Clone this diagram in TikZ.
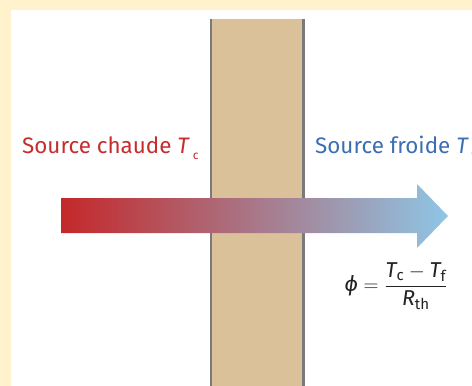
\documentclass[tikz,border=0pt]{standalone}
\usepackage{amsmath}
\usepackage{fontspec}
\setmainfont{Fira Sans}
\definecolor{cream}{HTML}{FFF2CC}
\definecolor{wallfill}{HTML}{DBC199}
\definecolor{wallline}{HTML}{7A7A7A}
\definecolor{hotred}{HTML}{C4282A}
\definecolor{coldblue}{HTML}{8EC6E6}
\definecolor{txtred}{HTML}{C62D2D}
\definecolor{txtblue}{HTML}{3B6EB2}
\definecolor{ink}{HTML}{222222}
\newcommand{\lblsub}[1]{\kern0.12em\raisebox{-0.3em}{\fontsize{12}{13}\selectfont #1}}
\tikzset{
  srclabel/.style={anchor=base west, inner sep=0pt, font=\fontsize{22.4}{25}\selectfont},
  wallborder/.style={draw=wallline, line width=2.6pt},
}
\begin{document}
\begin{tikzpicture}[x=1pt,y=-1pt]
\useasboundingbox (0,0) rectangle (472,386);
\fill[cream] (0,0) rectangle (472,386);
\fill[white] (11,10) rectangle (472,386);
% wall
\fill[wallfill] (211,19) rectangle (303.5,386);
\draw[wallborder] (211,19) -- (211,386);
\draw[wallborder] (303.5,19) -- (303.5,386);
% arrow
\shade[left color=hotred, right color=coldblue, shading angle=90]
  (61,198) -- (417,198) -- (417,184) -- (448,216) -- (417,248) -- (417,233) -- (61,233) -- cycle;
% labels
\node[srclabel, text=txtred] (hot) at (22,153) {Source chaude \textit{T}\lblsub{c}};
\node[srclabel, text=txtblue] (cold) at (315,153) {Source froide \textit{T}\lblsub{f}};
\node[inner sep=0pt, text=ink, font=\fontsize{21.5}{24}\selectfont] (phi) at (396,286)
  {$\text{\itshape ϕ} = \dfrac{\text{\itshape T}_{\text{c}} - \text{\itshape T}_{\text{f}}}{\text{\itshape R}_{\text{th}}}$};
\end{tikzpicture}
\end{document}
